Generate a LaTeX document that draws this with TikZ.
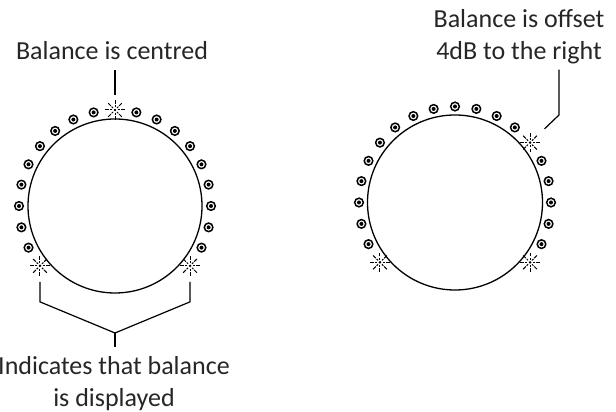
\documentclass[tikz,border=0pt]{standalone}
\usepackage{fontspec}
\setmainfont{Carlito}
\usetikzlibrary{calc}
\begin{document}
\begin{tikzpicture}[x=1pt,y=1pt,
leader/.style={black,line width=1.2pt},
dial/.style={black,line width=1.3pt},
ledring/.style={black,line width=1.5pt},
rayo/.style={black,line width=1pt}]%estilos de lineas
\tikzstyle{every node}=[inner sep=0pt,text=black!85,font=\fontsize{26}{32}\selectfont]% texto de las etiquetas
\useasboundingbox (0,0) rectangle (616,412);
\def\paso{12.857}% separacion angular entre leds
% perillas
\coordinate (cL) at (115,206);
\coordinate (cR) at (455,209.5);
\draw[dial] (cL) circle (87);
\draw[dial] (cR) circle (87.5);
\foreach \k in {-10,...,10}{%posiciones de los leds
  \coordinate (L\k) at ($(cL)+({90+\k*\paso}:96)$);
  \coordinate (R\k) at ($(cR)+({90+\k*\paso}:96)$);
}
% leds apagados
\foreach \k in {-9,...,-1,1,2,...,9}{
  \draw[ledring] (L\k) circle (4.3); \fill (L\k) circle (2);
}
\foreach \k in {-9,-8,-7,-6,-5,-3,-2,...,9}{
  \draw[ledring] (R\k) circle (4.3); \fill (R\k) circle (2);
}
% leds encendidos
\foreach \p in {L0,L10,L-10,R-4,R10,R-10}{
  \fill (\p) circle (1.4);
  \foreach \a in {0,45,...,315}
    \draw[rayo] (\p) ++(\a:2.8) -- ++(\a:2) ++(\a:1.1) -- ++(\a:3.8);
}
% etiquetas
\node[anchor=base] (centro) at (112,352) {Balance is centred};
\node[anchor=base,align=center] (desfase) at (519,352) {Balance is offset\\4dB to the right};
\node[anchor=base,align=center] (indica) at (114,5) {Indicates that balance\\is displayed};
\coordinate (codo) at (559,297);
\coordinate (junta) at (115,79);
% lineas guia
\draw[leader] ([yshift=-10pt]centro.south -| L0) -- ([yshift=15pt]L0);
\draw[leader,shorten >=20pt] ([yshift=-5pt]desfase.south -| codo) -- (codo) -- (R-4);
\draw[leader] ([yshift=-16pt]L10) -- ([yshift=-36pt]L10) -- (junta) -- ([yshift=-36pt]L-10) -- ([yshift=-16pt]L-10);
\draw[leader] (junta) -- ([yshift=10pt]indica.north -| junta);
\end{tikzpicture}
\end{document}
